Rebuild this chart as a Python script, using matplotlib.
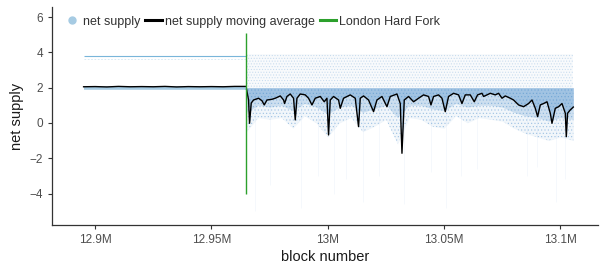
import numpy as np
import matplotlib.pyplot as plt
from matplotlib.lines import Line2D
from matplotlib.ticker import FixedLocator, FixedFormatter

plt.rcParams['font.family'] = ['Liberation Sans', 'DejaVu Sans']
plt.rcParams['hatch.linewidth'] = 0.5

# ---------------------------------------------------------------------------
# data
# ---------------------------------------------------------------------------
fork_block = 12965000
first_block = 12895000
last_block = 13105600

# pre-fork: per-block net supply sits on a few fixed levels
pre_levels = [2.0, 3.8, 3.6]

# moving average before the fork
ma_pre_blocks = [12895000, 12900000, 12905000, 12910000, 12915000, 12920000,
                 12925000, 12930000, 12935000, 12940000, 12945000, 12950000,
                 12955000, 12960000, 12964900]
ma_pre_values = [2.05, 2.06, 2.04, 2.07, 2.05, 2.06, 2.05, 2.07, 2.04, 2.06,
                 2.05, 2.06, 2.05, 2.07, 2.07]

# moving average after the fork
ma_post_blocks = [12965100, 12965935, 12966365, 12967095, 12968085, 12970235,
                  12971700, 12972690, 12973850, 12976000, 12977420, 12979570,
                  12981000, 12981420, 12982450, 12983870, 12985290, 12986020,
                  12986750, 12988170, 12990320, 12991740, 12993200, 12994620,
                  12996770, 12998490, 12999650, 13000340, 13001070, 13002490,
                  13004640, 13005370, 13006790, 13009670, 13011820, 13013240,
                  13013970, 13015390, 13017540, 13019690, 13021150, 13023300,
                  13025450, 13026880, 13029760, 13031180, 13031910, 13032900,
                  13034750, 13036900, 13039050, 13041200, 13043350, 13044380,
                  13045500, 13047650, 13049110, 13050530, 13051950, 13054100,
                  13056250, 13057710, 13059130, 13061290, 13063000, 13064430,
                  13066320, 13067010, 13068470, 13069890, 13072040, 13073460,
                  13074920, 13076340, 13078490, 13079910, 13082060, 13084210,
                  13086360, 13087830, 13089250, 13090240, 13091400, 13092820,
                  13094280, 13095700, 13096430, 13097850, 13099270, 13100730,
                  13102150, 13102580, 13103140, 13104300, 13105030, 13105590]
ma_post_values = [1.9, 1.3, -0.02, 1.13, 1.3, 1.4,
                  1.26, 1.02, 1.3, 1.34, 1.4, 1.53,
                  1.3, 1.1, 1.5, 1.64, 1.4, 0.17,
                  1.4, 1.64, 1.59, 1.4, 1.02, 1.4,
                  1.5, 1.2, 1.4, -0.68, 1.3, 1.5,
                  1.3, 0.83, 1.4, 1.59, 1.4, -0.21,
                  1.4, 1.53, 1.3, 0.64, 1.3, 1.5,
                  0.92, 1.5, 1.64, 1.1, -1.72, 1.3,
                  1.5, 1.2, 1.4, 1.59, 1.5, 1.02,
                  1.5, 1.59, 1.4, 0.64, 1.5, 1.68,
                  1.59, 1.1, 1.59, 1.59, 1.2, 1.59,
                  1.68, 1.5, 1.59, 1.68, 1.59, 1.68,
                  1.4, 1.53, 1.4, 1.3, 1.02, 0.92,
                  1.1, 1.3, 0.83, 0.36, 1.02, 1.1,
                  1.2, 0.55, -0.02, 0.83, 0.92, 1.1,
                  0.55, -0.78, 0.55, 0.74, 0.83, 0.9]

# post-fork cloud of per-block values: top of dense band, sparse top, lower edges
cloud_top = 2.0
sparse_top = 3.9
cloud_blocks = [12965000, 12970000, 12975000, 12980000, 12985000, 12990000,
                12995000, 13000000, 13005000, 13010000, 13015000, 13020000,
                13025000, 13030000, 13035000, 13040000, 13045000, 13050000,
                13055000, 13060000, 13065000, 13070000, 13075000, 13080000,
                13085000, 13090000, 13095000, 13100000, 13105600]
cloud_mid = [0.6, 1.0, 0.9, 1.0, 0.7, 1.1,
             0.9, 0.5, 0.9, 1.0, 0.6, 0.8,
             1.0, 0.3, 1.0, 1.0, 0.8, 0.7,
             1.1, 0.9, 1.0, 1.0, 0.9, 0.6,
             0.4, 0.3, 0.1, 0.3, 0.2]
cloud_low = [-0.5, 0.3, 0.2, 0.3, -0.3, 0.4,
             0.0, -0.8, 0.0, 0.3, -0.5, -0.2,
             0.2, -1.2, 0.3, 0.2, -0.2, -0.3,
             0.4, 0.0, 0.3, 0.2, 0.1, -0.3,
             -0.6, -0.8, -1.0, -0.8, -1.0]

# faint outlier streaks below the cloud
streak_blocks = [12968500, 12975000, 12988500, 12996000, 13002500, 13008000,
                 13015000, 13022000, 13033000, 13044500, 13051000, 13057500,
                 13064000, 13085500, 13090000, 13098000, 13102000]
streak_low = [-5.0, -3.5, -4.8, -3.0, -4.0, -3.2,
              -4.5, -3.0, -4.6, -2.8, -4.8, -3.0,
              -2.6, -3.0, -2.5, -4.5, -3.2]

fork_line = [-4.0, 5.1]

# ---------------------------------------------------------------------------
# plot
# ---------------------------------------------------------------------------
pt_color = '#a6cbe3'
band_color = '#3d85c6'
fork_color = '#2ca02c'
grey = '#4d4d4d'

fig = plt.figure(figsize=(6, 2.7), dpi=100)
ax = fig.add_axes([0.087, 0.167, 0.91, 0.807])

# pre-fork levels
ax.hlines(pre_levels[0], first_block, fork_block, color=pt_color, lw=2.6, zorder=2)
ax.hlines(pre_levels[1], first_block, fork_block, color='#6baed6', lw=0.8, alpha=0.9, zorder=2)
ax.hlines(pre_levels[2], first_block, fork_block, color='#6baed6', lw=0.6, alpha=0.3,
          linestyles=(0, (2, 2)), zorder=2)

# post-fork cloud: sparse speckle above 2, dense band below
ax.fill_between([fork_block, last_block], cloud_top, sparse_top,
                facecolor=band_color, alpha=0.035, lw=0, zorder=1)
ax.fill_between([fork_block, last_block], cloud_top, sparse_top,
                facecolor='none', edgecolor=(0.24, 0.52, 0.78, 0.22), hatch='......',
                lw=0, zorder=1)
ax.vlines(streak_blocks, streak_low, cloud_top, color=band_color, alpha=0.06,
          lw=0.6, zorder=1)
ax.fill_between(cloud_blocks, cloud_low, cloud_top,
                facecolor='none', edgecolor=(0.24, 0.52, 0.78, 0.35), hatch='.....',
                lw=0, zorder=1)
ax.fill_between(cloud_blocks, cloud_low, cloud_top,
                color=band_color, alpha=0.07, lw=0, zorder=1)
ax.fill_between(cloud_blocks, cloud_mid, cloud_top,
                color=band_color, alpha=0.2, lw=0, zorder=1)
ax.fill_between(ma_post_blocks, ma_post_values, cloud_top,
                color=band_color, alpha=0.3, lw=0, zorder=1)

# moving average
ax.plot(ma_pre_blocks, ma_pre_values, color='black', lw=1.0, zorder=4)
ax.plot(ma_post_blocks, ma_post_values, color='black', lw=1.0, zorder=4)

# London hard fork
ax.vlines(fork_block, fork_line[0], fork_line[1], color=fork_color, lw=1.0, zorder=5)

# axes styling (theme_classic look)
ax.set_xlim(12881500, 13116300)
ax.set_ylim(-5.78, 6.57)
ax.xaxis.set_major_locator(FixedLocator([12900000, 12950000, 13000000, 13050000, 13100000]))
ax.xaxis.set_major_formatter(FixedFormatter(['12.9M', '12.95M', '13M', '13.05M', '13.1M']))
ax.set_yticks([-4, -2, 0, 2, 4, 6])
ax.set_yticklabels(['\u22124', '\u22122', '0', '2', '4', '6'])
for s in ['top', 'right']:
    ax.spines[s].set_visible(False)
for s in ['left', 'bottom']:
    ax.spines[s].set_color('#333333')
    ax.spines[s].set_linewidth(0.9)
ax.tick_params(axis='both', colors='#333333', labelcolor=grey, labelsize=8.5,
               length=3, width=0.8)
ax.set_xlabel('block number', fontsize=10.5, color='#1a1a1a', labelpad=3)
ax.set_ylabel('net supply', fontsize=10.5, color='#1a1a1a', labelpad=4)

handles = [
    Line2D([], [], marker='o', ls='none', color=pt_color, markersize=5),
    Line2D([], [], color='black', lw=2.2),
    Line2D([], [], color=fork_color, lw=2.2),
]
labels = ['net supply', 'net supply moving average', 'London Hard Fork']
ax.legend(handles, labels, loc='upper left', bbox_to_anchor=(0.005, 1.0), ncol=3,
          frameon=False, fontsize=9, handlelength=1.3, handletextpad=0.25,
          columnspacing=0.4, borderaxespad=0.3, labelcolor='#333333')

fig.savefig('out.png', dpi=100)
